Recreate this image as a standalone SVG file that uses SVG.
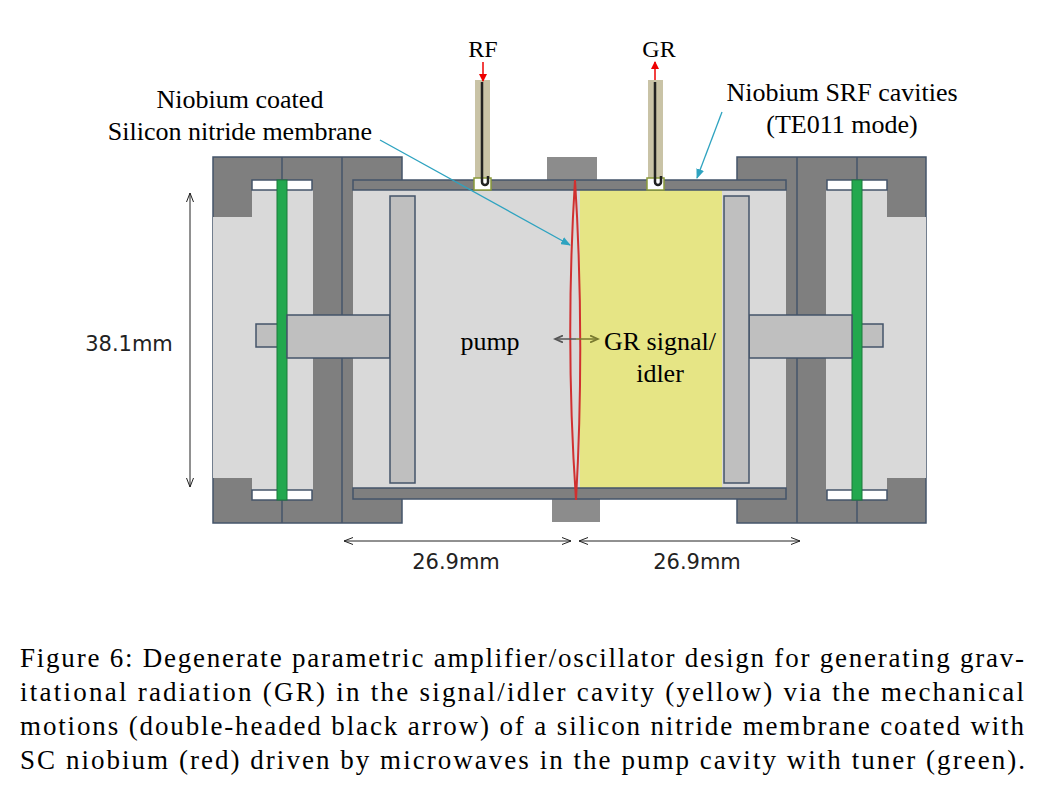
<svg xmlns="http://www.w3.org/2000/svg" width="1047" height="803" viewBox="0 0 1047 803">
<style>
.dk{fill:#7f7f7f;stroke:#44546a;stroke-width:1.5}
.lt{fill:#d9d9d9}
.md{fill:#bfbfbf;stroke:#44546a;stroke-width:1.5}
.ln{stroke:#44546a;stroke-width:1.5;fill:none}
.wh{fill:#fff;stroke:#44546a;stroke-width:1.5}
.sf{font-family:"Liberation Serif",serif;fill:#000}
.ss{font-family:"DejaVu Sans",sans-serif;fill:#222;font-size:21px}
.lead{stroke:#2ea3c0;stroke-width:1.3;fill:none}
.dim{stroke:#222;stroke-width:1;fill:none}
</style>
<defs>
<marker id="ta" markerWidth="10" markerHeight="8" refX="9" refY="4" orient="auto" markerUnits="userSpaceOnUse"><path d="M0,0 L10,4 L0,8 Z" fill="#2ea3c0"/></marker>
<marker id="da" markerWidth="10" markerHeight="8" refX="9" refY="4" orient="auto-start-reverse" markerUnits="userSpaceOnUse"><path d="M0,0.5 L9,4 L0,7.5" fill="none" stroke="#222" stroke-width="1"/></marker>
<marker id="ra" markerWidth="8" markerHeight="8" refX="7" refY="4" orient="auto" markerUnits="userSpaceOnUse"><path d="M0,0 L8,4 L0,8 Z" fill="#e00"/></marker>
<marker id="ga" markerWidth="10" markerHeight="8" refX="8" refY="4" orient="auto" markerUnits="userSpaceOnUse"><path d="M0,0.5 L8,4 L0,7.5" fill="none" stroke="#7a7a30" stroke-width="1.8"/></marker>
<marker id="ka" markerWidth="10" markerHeight="8" refX="8" refY="4" orient="auto" markerUnits="userSpaceOnUse"><path d="M0,0.5 L8,4 L0,7.5" fill="none" stroke="#555" stroke-width="1.8"/></marker>
<g id="half">
<rect class="dk" x="213" y="157" width="189" height="366"/>
<rect class="lt" x="252" y="190" width="61" height="300"/>
<rect class="lt" x="213" y="217" width="40" height="261"/>
<rect class="wh" x="252" y="180" width="60" height="10"/>
<rect class="wh" x="252" y="490" width="60" height="10"/>
<line class="ln" x1="282" y1="157" x2="282" y2="523"/>
<line class="ln" x1="342" y1="157" x2="342" y2="523"/>
<rect class="md" x="256" y="324" width="24" height="23"/>
<rect x="277" y="180" width="10" height="320" fill="#22a84e" stroke="#1a7a3a" stroke-width="1"/>
</g>
<g id="tuner">
<rect class="md" x="287" y="315" width="103" height="43"/>
<rect class="md" x="390" y="196" width="25" height="287"/>
</g>
</defs>
<rect width="1047" height="803" fill="#fff"/>
<g id="left-flange"><use href="#half"/></g>
<g id="right-flange"><use href="#half" transform="translate(1139,0) scale(-1,1)"/></g>
<g id="cavity">
<rect x="547" y="157" width="50" height="25" fill="#8c8c8c"/>
<rect x="552" y="498" width="48" height="24" fill="#8c8c8c"/>
<rect x="353" y="190" width="433" height="298" fill="#d9d9d9"/>
<rect x="580" y="190" width="142" height="298" fill="#e6e585"/>
<rect class="dk" x="353" y="180" width="433" height="10"/>
<rect class="dk" x="353" y="488" width="433" height="11"/>
</g>
<g id="left-tuner"><use href="#tuner"/></g>
<g id="right-tuner"><use href="#tuner" transform="translate(1139,0) scale(-1,1)"/></g>
<g id="membrane">
<path d="M575,180 Q565,340 576,500 Q585,340 575,180 Z" fill="none" stroke="#d03030" stroke-width="2"/>
</g>
<g id="probes">
<rect x="475" y="80" width="15" height="100" fill="#c9c3a6"/>
<rect x="474" y="178" width="17" height="12" fill="#fff" stroke="#8a9a3a" stroke-width="1.5"/>
<path d="M482,82 V182 a3,3 0 0 0 6,0 V176" fill="none" stroke="#222" stroke-width="2.5"/>
<rect x="648" y="80" width="15" height="100" fill="#c9c3a6"/>
<rect x="647" y="178" width="17" height="12" fill="#fff" stroke="#8a9a3a" stroke-width="1.5"/>
<path d="M655,82 V182 a3,3 0 0 0 6,0 V176" fill="none" stroke="#222" stroke-width="2.5"/>
</g>
<g id="connectors">
<line x1="483" y1="62" x2="483" y2="81" stroke="#e00" stroke-width="1.5" marker-end="url(#ra)"/>
<line x1="655" y1="80" x2="655" y2="62" stroke="#e00" stroke-width="1.5" marker-end="url(#ra)"/>
<line class="lead" x1="380" y1="140" x2="570" y2="245" marker-end="url(#ta)"/>
<line class="lead" x1="722" y1="112" x2="697" y2="178" marker-end="url(#ta)"/>
<line x1="576" y1="339" x2="555" y2="339" stroke="#555" stroke-width="1.5" marker-end="url(#ka)"/>
<line x1="576" y1="339" x2="598" y2="339" stroke="#7a7a30" stroke-width="1.5" marker-end="url(#ga)"/>
<line class="dim" x1="190" y1="193" x2="190" y2="487" marker-start="url(#da)" marker-end="url(#da)"/>
<line class="dim" x1="344" y1="541" x2="571" y2="541" marker-start="url(#da)" marker-end="url(#da)"/>
<line class="dim" x1="579" y1="541" x2="800" y2="541" marker-start="url(#da)" marker-end="url(#da)"/>
</g>
<g id="labels">
<text class="sf" x="483" y="57" font-size="24" text-anchor="middle">RF</text>
<text class="sf" x="659" y="57" font-size="24" text-anchor="middle">GR</text>
<text class="sf" x="240" y="108" font-size="26" text-anchor="middle">Niobium coated</text>
<text class="sf" x="240" y="140" font-size="26" text-anchor="middle">Silicon nitride membrane</text>
<text class="sf" x="842" y="101" font-size="26" text-anchor="middle">Niobium SRF cavities</text>
<text class="sf" x="842" y="133" font-size="26" text-anchor="middle">(TE011 mode)</text>
<text class="sf" x="490" y="350" font-size="26" text-anchor="middle">pump</text>
<text class="sf" x="604" y="350" font-size="26">GR signal/</text>
<text class="sf" x="660" y="382" font-size="26" text-anchor="middle">idler</text>
<text class="ss" x="129" y="351" text-anchor="middle">38.1mm</text>
<text class="ss" x="456" y="569" text-anchor="middle">26.9mm</text>
<text class="ss" x="697" y="569" text-anchor="middle">26.9mm</text>
</g>
<g id="caption" class="sf" font-size="27">
<text x="20" y="667" textLength="1004" lengthAdjust="spacing">Figure 6: Degenerate parametric amplifier/oscillator design for generating grav-</text>
<text x="20" y="701" textLength="1004" lengthAdjust="spacing">itational radiation (GR) in the signal/idler cavity (yellow) via the mechanical</text>
<text x="20" y="735" textLength="1004" lengthAdjust="spacing">motions (double-headed black arrow) of a silicon nitride membrane coated with</text>
<text x="20" y="769" textLength="1005" lengthAdjust="spacing">SC niobium (red) driven by microwaves in the pump cavity with tuner (green).</text>
</g>
</svg>
